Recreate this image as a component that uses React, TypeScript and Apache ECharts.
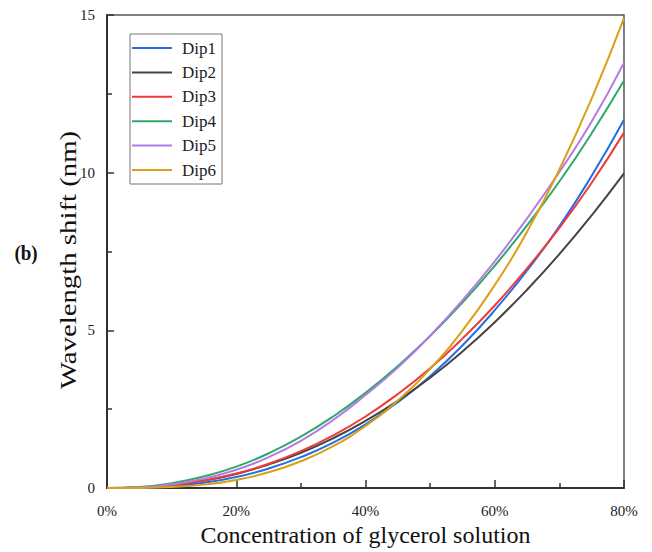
import React, { useEffect, useRef } from "react";
import * as echarts from "echarts";

const concentration = [0, 5, 10, 15, 20, 25, 30, 35, 40, 45, 50, 55, 60, 65, 70, 75, 80];
const seriesNames = ["Dip1", "Dip2", "Dip3", "Dip4", "Dip5", "Dip6"];
const dip1 = [0, 0.01, 0.06, 0.17, 0.35, 0.62, 0.98, 1.44, 2.02, 2.72, 3.55, 4.52, 5.64, 6.9, 8.3, 9.9, 11.68];
const dip2 = [0, 0.02, 0.1, 0.24, 0.45, 0.75, 1.12, 1.58, 2.13, 2.77, 3.5, 4.33, 5.26, 6.29, 7.42, 8.65, 9.98];
const dip3 = [0, 0.02, 0.09, 0.24, 0.46, 0.77, 1.17, 1.67, 2.27, 2.98, 3.8, 4.74, 5.79, 6.97, 8.25, 9.68, 11.27];
const dip4 = [0, 0.035, 0.155, 0.37, 0.68, 1.1, 1.63, 2.27, 3.02, 3.87, 4.82, 5.88, 7.05, 8.33, 9.72, 11.25, 12.92];
const dip5 = [0, 0.025, 0.12, 0.3, 0.58, 0.98, 1.5, 2.16, 2.95, 3.82, 4.83, 5.95, 7.19, 8.55, 10.02, 11.62, 13.49];
const dip6 = [0, 0.005, 0.035, 0.11, 0.26, 0.5, 0.85, 1.33, 1.97, 2.78, 3.78, 4.99, 6.44, 8.13, 10.1, 12.35, 14.9];
const seriesValues = [dip1, dip2, dip3, dip4, dip5, dip6];
const seriesColors = ["#2370e3", "#444444", "#f03a3a", "#2fa86a", "#b47ae6", "#d9a016"];

const FONT = "'Liberation Serif', 'Times New Roman', serif";

export default function App() {
  const ref = useRef<HTMLDivElement>(null);
  useEffect(() => {
    const chart = echarts.init(ref.current!, null, { renderer: "svg" });
    chart.setOption({
      animation: false,
      backgroundColor: "#ffffff",
      grid: {
        left: 107,
        right: 28,
        top: 15,
        bottom: 62,
        show: true,
        borderColor: "#555",
        borderWidth: 1.5,
        backgroundColor: "transparent",
      },
      legend: {
        data: seriesNames,
        orient: "vertical",
        left: 130,
        top: 34,
        icon: "rect",
        itemWidth: 40,
        itemHeight: 2,
        itemGap: 4.4,
        padding: [4, 6, 4, 2],
        borderColor: "#777",
        borderWidth: 1,
        textStyle: {
          fontFamily: FONT,
          fontSize: 17,
          color: "#222",
          lineHeight: 20,
          padding: [0, 0, 0, 5],
        },
      },
      xAxis: {
        type: "value",
        min: 0,
        max: 80,
        interval: 20,
        name: "Concentration of glycerol solution",
        nameLocation: "middle",
        nameGap: 31,
        nameTextStyle: { fontFamily: FONT, fontSize: 24, color: "#111" },
        axisLine: { show: true, lineStyle: { color: "#333", width: 2 } },
        axisTick: { show: true, inside: true, length: 8, lineStyle: { color: "#333", width: 1.5 } },
        minorTick: { show: true, splitNumber: 2, length: 5, lineStyle: { color: "#333", width: 1.5 } },
        splitLine: { show: false },
        axisLabel: {
          formatter: (v: number) => `${v}%`,
          fontFamily: FONT,
          fontSize: 15,
          color: "#222",
          margin: 15,
        },
      },
      yAxis: {
        type: "value",
        min: 0,
        max: 15,
        interval: 5,
        axisLine: { show: true, lineStyle: { color: "#333", width: 2 } },
        axisTick: { show: true, inside: true, length: 7, lineStyle: { color: "#333", width: 1.5 } },
        minorTick: { show: true, splitNumber: 2, length: 5, lineStyle: { color: "#333", width: 1.5 } },
        splitLine: { show: false },
        axisLabel: { fontFamily: FONT, fontSize: 15, color: "#222", margin: 12 },
      },
      graphic: [
        {
          type: "text",
          x: 68,
          y: 260,
          rotation: Math.PI / 2,
          scaleX: 1.2,
          style: {
            text: "Wavelength shift (nm)",
            fontFamily: FONT,
            fontSize: 24,
            fill: "#111",
            align: "center",
            verticalAlign: "middle",
          },
        },
        {
          type: "text",
          x: 26,
          y: 253,
          scaleY: 1.15,
          style: {
            text: "(b)",
            fontFamily: FONT,
            fontSize: 19,
            fontWeight: "bold",
            fill: "#111",
            align: "center",
            verticalAlign: "middle",
          },
        },
      ],
      series: seriesNames.map((name, i) => ({
        name,
        type: "line",
        smooth: true,
        showSymbol: false,
        symbol: "none",
        color: seriesColors[i],
        lineStyle: { width: 2, color: seriesColors[i] },
        data: concentration.map((c, j) => [c, seriesValues[i][j]]),
      })),
    });
    return () => chart.dispose();
  }, []);
  return (
    <div
      ref={ref}
      style={{ position: "fixed", left: 0, top: 0, width: 652, height: 552, background: "#fff" }}
    />
  );
}
